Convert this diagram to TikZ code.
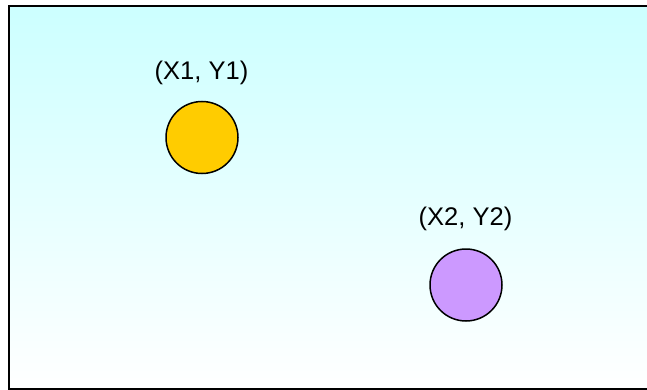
\documentclass[tikz,border=0pt]{standalone}
\usepackage{fontspec}
\setmainfont{Liberation Sans}
\begin{document}
\begin{tikzpicture}[x=1pt,y=-1pt,
  pt/.style={circle,draw=black,line width=1.5pt,minimum size=72pt,inner sep=0pt},
  lbl/.style={font=\fontsize{25.5}{30}\selectfont,inner sep=0pt}]
\useasboundingbox (0,0) rectangle (647,390);
\shade[top color={rgb,255:red,204;green,255;blue,255},bottom color=white] (9,6) rectangle (660,389);
\draw[line width=2pt] (9,6) rectangle (660,389);
\node[pt,fill={rgb,255:red,255;green,204;blue,0}] (p1) at (202,137.5) {};
\node[pt,fill={rgb,255:red,204;green,153;blue,255}] (p2) at (466,285) {};
\node[lbl] (l1) at (201.5,72.5) {(X1, Y1)};
\node[lbl] (l2) at (465.5,218.5) {(X2, Y2)};
\end{tikzpicture}
\end{document}
